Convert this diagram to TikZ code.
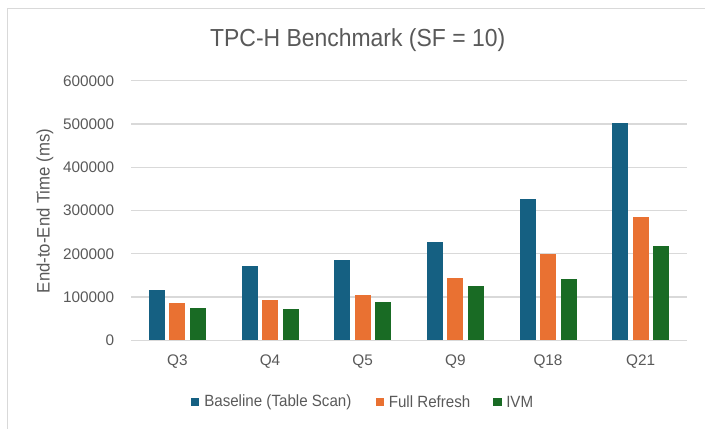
\documentclass[tikz,border=0pt]{standalone}
\usepackage{fontspec}
\setmainfont{Liberation Sans}
\newfontfamily\narrowfont[FakeStretch=0.93]{Liberation Sans}
\definecolor{basecol}{HTML}{156082}
\definecolor{fullcol}{HTML}{E97132}
\definecolor{ivmcol}{HTML}{196B24}
\definecolor{textgrey}{HTML}{595959}
\definecolor{gridgrey}{HTML}{D9D9D9}
\def\drawbar[#1](#2:#3){\fill[#1] ({#2-8},0) rectangle ({#2+8},#3);}

\begin{document}
\begin{tikzpicture}[x=0.75pt, y=-0.75pt,
		gridline/.style={gridgrey, line width=0.9pt},
		ticklabel/.style={text=textgrey, anchor=east, inner sep=0pt, font=\fontsize{11.5}{12}\selectfont},
		catlabel/.style={text=textgrey, inner sep=0pt, font=\fontsize{11.5}{12}\selectfont},
		legendtext/.style={text=textgrey, anchor=west, inner sep=0pt, font=\narrowfont\fontsize{12.2}{13}\selectfont},
		legendkey/.style={minimum size=6.4pt, inner sep=0pt}]
	%%%%% START %%%%%
	
	\useasboundingbox (0,0) rectangle (705,428);
	\draw[gridgrey, line width=0.8pt] (7.6,440) -- (7.6,8.3) -- (720,8.3);
	
	\node[text=textgrey, font=\narrowfont\fontsize{18.5}{20}\selectfont] (title) at (357.7,40) {TPC-H Benchmark (SF = 10)};
	\node[text=textgrey, rotate=90, font=\narrowfont\fontsize{13.5}{15}\selectfont] (ylabel) at (45,211) {End-to-End Time (ms)};
	
	\begin{scope}[yshift=-255.225pt, y=0.324375pt]
		% grid and values (in thousands)
		\draw[gridline] (131,0) -- (687,0);
		\draw[gridline] (131,100) -- (687,100);
		\draw[gridline] (131,200) -- (687,200);
		\draw[gridline] (131,300) -- (687,300);
		\draw[gridline] (131,400) -- (687,400);
		\draw[gridline] (131,500) -- (687,500);
		\draw[gridline] (131,600) -- (687,600);
		
		\node[ticklabel] (t0) at (114.5,0) {0};
		\node[ticklabel] (t1) at (114.5,100) {100000};
		\node[ticklabel] (t2) at (114.5,200) {200000};
		\node[ticklabel] (t3) at (114.5,300) {300000};
		\node[ticklabel] (t4) at (114.5,400) {400000};
		\node[ticklabel] (t5) at (114.5,500) {500000};
		\node[ticklabel] (t6) at (114.5,600) {600000};
		
		\drawbar[basecol](156.8:117)
		\drawbar[fullcol](177.3:87)
		\drawbar[ivmcol](197.8:75.4)
		
		\drawbar[basecol](249.5:172.5)
		\drawbar[fullcol](270:93.2)
		\drawbar[ivmcol](290.5:71.7)
		
		\drawbar[basecol](342.2:185)
		\drawbar[fullcol](362.7:104)
		\drawbar[ivmcol](383.2:88.5)
		
		\drawbar[basecol](434.8:227.3)
		\drawbar[fullcol](455.3:144)
		\drawbar[ivmcol](475.8:124.8)
		
		\drawbar[basecol](527.5:327.4)
		\drawbar[fullcol](548:199.5)
		\drawbar[ivmcol](568.5:141.7)
		
		\drawbar[basecol](620.2:502.5)
		\drawbar[fullcol](640.7:285)
		\drawbar[ivmcol](661.2:218.7)
	\end{scope}
	
	\node[catlabel] (q3) at (177.3,362) {Q3};
	\node[catlabel] (q4) at (270,362) {Q4};
	\node[catlabel] (q5) at (362.7,362) {Q5};
	\node[catlabel] (q9) at (455.3,362) {Q9};
	\node[catlabel] (q18) at (548,362) {Q18};
	\node[catlabel] (q21) at (640.7,362) {Q21};
	
	\node[legendkey, fill=basecol] (kbase) at (195.2,402) {};
	\node[legendtext] (lbase) at (204,402) {Baseline (Table Scan)};
	\node[legendkey, fill=fullcol] (kfull) at (380,402) {};
	\node[legendtext] (lfull) at (388.5,402) {Full Refresh};
	\node[legendkey, fill=ivmcol] (kivm) at (497.5,402) {};
	\node[legendtext] (livm) at (506,402) {IVM};
	
	%%%%% END %%%%%
\end{tikzpicture}
\end{document}
